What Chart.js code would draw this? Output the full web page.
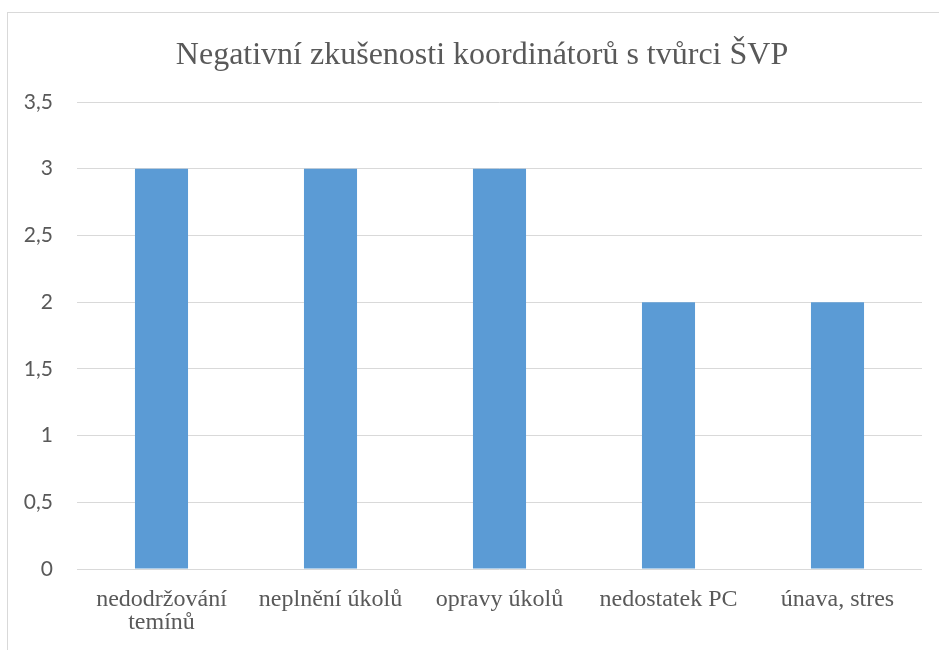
<!DOCTYPE html>
<html>
<head>
<meta charset="utf-8">
<script src="https://cdn.jsdelivr.net/npm/chart.js@4/dist/chart.umd.min.js"></script>
<style>
  html, body { margin: 0; padding: 0; background: #ffffff; overflow: hidden; }
  #wrap { position: absolute; left: 0; top: 0; width: 939px; height: 650px; }
</style>
</head>
<body>
<div id="wrap"><canvas id="c" width="939" height="650"></canvas></div>
<script>
const chartTitle = 'Negativní zkušenosti koordinátorů s tvůrci ŠVP';
const categories = [['nedodržování', 'temínů'], 'neplnění úkolů', 'opravy úkolů', 'nedostatek PC', 'únava, stres'];
const values = [3, 3, 3, 2, 2];
const yTickValues = [0, 0.5, 1, 1.5, 2, 2.5, 3, 3.5];
const yTickLabels = ['0', '0,5', '1', '1,5', '2', '2,5', '3', '3,5'];

const frame = {
  id: 'frame',
  afterLayout(chart) {
    if (chart.titleBlock) {
      chart.titleBlock.left = 42;
    }
  },
  beforeDraw(chart) {
    const ctx = chart.ctx;
    ctx.save();
    ctx.fillStyle = '#ffffff';
    ctx.fillRect(0, 0, chart.width, chart.height);
    ctx.strokeStyle = '#d9d9d9';
    ctx.lineWidth = 1;
    ctx.strokeRect(7.5, 12.5, 1200, 1200);
    ctx.restore();
  }
};

new Chart(document.getElementById('c'), {
  type: 'bar',
  data: {
    labels: categories,
    datasets: [{
      data: values,
      backgroundColor: '#5b9bd5',
      borderWidth: 0,
      barPercentage: 0.314,
      categoryPercentage: 1
    }]
  },
  options: {
    responsive: false,
    animation: false,
    devicePixelRatio: 1,
    layout: { padding: { left: 0, right: 17, top: 0, bottom: 0 } },
    plugins: {
      legend: { display: false },
      tooltip: { enabled: false },
      title: {
        display: true,
        text: chartTitle,
        color: '#595959',
        font: { family: '"Liberation Serif", "Times New Roman", serif', size: 32, weight: 'normal', lineHeight: 1.2 },
        padding: { top: 36, bottom: 27.6 }
      }
    },
    scales: {
      x: {
        grid: { display: false, drawTicks: false },
        border: { display: false },
        ticks: {
          color: '#595959',
          padding: 19,
          maxRotation: 0,
          autoSkip: false,
          font: { family: '"Liberation Serif", "Times New Roman", serif', size: 24, lineHeight: 0.96 }
        },
        afterFit(scale) { scale.height = 81; }
      },
      y: {
        min: 0,
        max: 3.5,
        grid: { color: '#d9d9d9', lineWidth: 1, drawTicks: false },
        border: { display: false },
        afterBuildTicks(scale) { scale.ticks = yTickValues.map(v => ({ value: v })); },
        ticks: {
          color: '#595959',
          padding: 24,
          font: { family: 'Lato, "Liberation Sans", sans-serif', size: 21 },
          callback(value) {
            const i = yTickValues.indexOf(value);
            return i >= 0 ? yTickLabels[i] : '';
          }
        },
        afterFit(scale) { scale.width = 77; }
      }
    }
  },
  plugins: [frame]
});
</script>
</body>
</html>
